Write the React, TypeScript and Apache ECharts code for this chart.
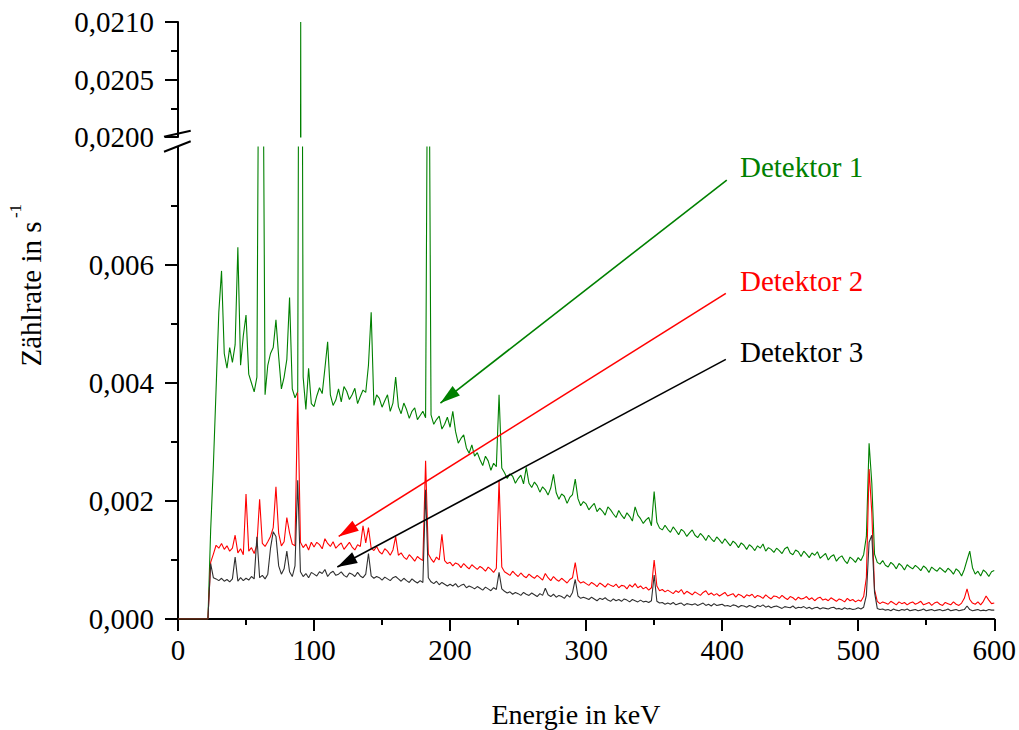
import React, { useEffect, useRef } from "react";
import * as echarts from "echarts";

// Energy grid: channel i is at i * ENERGY_STEP keV (0 ... 600 keV)
const ENERGY_STEP = 2;

// Count rates, in units of 1e-6 s^-1
const detector1 = [
  0, 0, 0, 0, 0, 0, 0, 0, 0, 0,
  0, 0, 1500, 2600, 3900, 5200, 5900, 4500, 4250, 4600,
  4350, 4650, 6300, 4300, 4800, 5150, 4150, 4000, 3850, 4100,
  13000, 12000, 3800, 4300, 4500, 4600, 5070, 4450, 3900, 4100,
  4400, 5450, 3900, 3750, 3850, 21000, 4100, 3550, 4250, 3650,
  3600, 3780, 3920, 3820, 4250, 4700, 3800, 3620, 3710, 3900,
  3680, 3940, 3860, 3720, 3800, 3910, 3650, 3770, 3880, 3840,
  4300, 5200, 3620, 3800, 3740, 3590, 3700, 3800, 3520, 3660,
  4100, 3600, 3480, 3660, 3550, 3400, 3520, 3580, 3380, 3450,
  3520, 3410, 12500, 3460, 3300, 3380, 3440, 3220, 3300, 3420,
  3250, 3520, 3180, 2980, 3060, 3120, 2900, 2810, 2950, 2760,
  2820, 2700, 2600, 2760, 2680, 2520, 2640, 2580, 3800, 2560,
  2480, 2380, 2460, 2420, 2300, 2380, 2440, 2290, 2570, 2300,
  2230, 2320, 2260, 2150, 2240, 2190, 2100, 2220, 2450, 2140,
  2030, 2120, 2080, 1960, 2060, 2110, 2370, 2040, 1920, 1990,
  1950, 1850, 1910, 1960, 1820, 1880, 1830, 1760, 1900, 1850,
  1780, 1720, 1840, 1760, 1700, 1800, 1740, 1660, 1900, 1760,
  1700, 1620, 1680, 1720, 1580, 2160, 1640, 1540, 1510, 1590,
  1520, 1470, 1560, 1500, 1430, 1520, 1480, 1400, 1460, 1510,
  1420, 1380, 1450, 1400, 1330, 1420, 1360, 1310, 1390, 1340,
  1280, 1360, 1300, 1240, 1320, 1280, 1210, 1290, 1250, 1180,
  1260, 1220, 1160, 1240, 1200, 1270, 1150, 1210, 1180, 1130,
  1200, 1160, 1110, 1190, 1220, 1120, 1090, 1170, 1140, 1060,
  1150, 1100, 1040, 1120, 1080, 1140, 1030, 1070, 1110, 1000,
  1060, 1090, 980, 1040, 1070, 990, 940, 1050, 1010, 960,
  1040, 990, 1090, 1400, 2980, 2300, 1100, 960, 930, 990,
  910, 880, 960, 920, 850, 940, 900, 830, 920, 880,
  850, 910, 870, 820, 900, 860, 790, 880, 840, 810,
  870, 830, 790, 860, 820, 760, 850, 810, 730, 840,
  1000, 1150, 870, 760, 810, 730, 830, 790, 720, 800,
  820,
];

const detector2 = [
  0, 0, 0, 0, 0, 0, 0, 0, 0, 0,
  0, 0, 960, 1100, 1250, 1200, 1280, 1180, 1240, 1150,
  1200, 1420, 1120, 1190, 1090, 2120, 1150, 1210, 1110, 1260,
  2030, 1280, 1230, 1310, 1400, 1550, 2240, 1450, 1240, 1310,
  1720, 1460, 1270, 1240, 3840, 1300, 1210, 1270, 1170, 1300,
  1220, 1300, 1260, 1190, 1360, 1280, 1230, 1310, 1200, 1250,
  1290, 1180, 1240, 1300, 1220, 1170, 1260, 1230, 1580, 1290,
  1550, 1200, 1160, 1230, 1140, 1100, 1190, 1150, 1080, 1170,
  1395, 1080, 1120, 1050, 1010, 1090, 1040, 980, 1060, 1020,
  990, 2680, 1100, 1020, 960, 1050, 1000, 1435, 990, 940,
  960, 900, 950, 930, 870, 940, 890, 850, 920, 880,
  840, 890, 860, 810, 880, 840, 790, 860, 2356, 880,
  800, 770, 740, 810, 760, 720, 780, 730, 700, 760,
  720, 690, 740, 700, 660, 770, 700, 650, 720, 670,
  640, 690, 650, 610, 670, 700, 955, 660, 610, 630,
  600, 570, 620, 590, 550, 610, 580, 540, 600, 570,
  550, 590, 530, 570, 560, 510, 580, 540, 600, 530,
  560, 510, 540, 490, 530, 1000, 560, 480, 500, 460,
  490, 460, 430, 480, 450, 500, 420, 470, 440, 410,
  460, 430, 400, 450, 480, 410, 440, 400, 430, 390,
  420, 450, 390, 410, 430, 370, 420, 400, 360, 410,
  390, 420, 360, 400, 380, 350, 410, 370, 340, 390,
  380, 350, 400, 360, 330, 380, 360, 320, 370, 340,
  350, 380, 330, 360, 310, 350, 370, 320, 340, 310,
  360, 330, 300, 340, 320, 290, 350, 310, 330, 290,
  320, 300, 380, 700, 2540, 1800, 500, 300, 260, 290,
  270, 250, 300, 270, 240, 290, 260, 280, 240, 270,
  290, 250, 270, 300, 240, 260, 280, 230, 270, 290,
  250, 230, 280, 260, 240, 290, 250, 230, 270, 350,
  510, 330, 270, 250, 290, 240, 300, 390, 320, 260,
  270,
];

const detector3 = [
  0, 0, 0, 0, 0, 0, 0, 0, 0, 0,
  0, 0, 940, 700, 680, 650, 690, 640, 670, 630,
  680, 1050, 640, 700, 650, 690, 660, 720, 680, 1395,
  700, 740, 680, 760, 1200, 1480, 1400, 900, 760, 850,
  1150, 800, 720, 900, 2350, 800, 720, 770, 700, 790,
  760, 730, 800, 770, 840, 720, 780, 810, 740, 760,
  800, 740, 710, 780, 760, 720, 790, 730, 700, 760,
  1110, 730, 690, 720, 700, 660, 710, 680, 650, 700,
  720, 680, 640, 690, 650, 620, 680, 640, 610, 650,
  620, 2190, 700, 630, 600, 640, 580, 620, 590, 560,
  590, 560, 600, 540, 570, 590, 530, 560, 540, 510,
  550, 520, 490, 540, 510, 480, 530, 500, 790, 510,
  470, 440, 460, 420, 450, 430, 400, 450, 420, 400,
  440, 410, 380, 430, 400, 520, 410, 380, 420, 370,
  400, 380, 350, 410, 370, 450, 670, 390, 350, 370,
  350, 330, 370, 340, 310, 350, 330, 360, 320, 300,
  340, 310, 330, 300, 340, 320, 290, 330, 310, 290,
  320, 290, 300, 280, 310, 745, 300, 270, 280, 250,
  270, 250, 280, 240, 260, 270, 230, 260, 250, 240,
  260, 230, 250, 270, 230, 250, 220, 260, 230, 240,
  250, 220, 230, 210, 240, 230, 200, 230, 220, 200,
  230, 210, 190, 230, 210, 240, 200, 220, 190, 210,
  220, 200, 180, 210, 200, 190, 220, 180, 200, 190,
  210, 180, 200, 170, 190, 200, 170, 190, 180, 170,
  190, 200, 170, 180, 160, 190, 170, 180, 160, 170,
  190, 170, 200, 400, 1300, 1420, 450, 180, 160, 170,
  150, 160, 140, 170, 150, 140, 160, 150, 170, 140,
  150, 160, 140, 150, 170, 140, 150, 160, 140, 150,
  160, 140, 150, 170, 140, 150, 160, 140, 150, 160,
  220, 160, 140, 150, 160, 140, 150, 140, 160, 150,
  150,
];

const seriesNames = ["Detektor 1", "Detektor 2", "Detektor 3"];
const seriesColors = ["#008000", "#ff0000", "#303030"];
const labelColors = ["#008000", "#ff0000", "#000000"];

// Axis settings
const xMin = 0;
const xMax = 600;
const xInterval = 100;
const lowerYMax = 0.008;
const lowerYInterval = 0.002;
const lowerYTicks = [0, 0.002, 0.004, 0.006];
const upperYMin = 0.02;
const upperYMax = 0.021;
const upperYInterval = 0.0005;

// Annotation arrows (data coordinates: keV, s^-1)
const arrowStarts = [
  [403.4, 0.00744],
  [402.7, 0.00552],
  [402.7, 0.0044],
];
const arrowEnds = [
  [192.9, 0.00366],
  [118.1, 0.0014],
  [117.1, 0.00088],
];

const FONT = '"Liberation Serif", "Times New Roman", serif';

function toPairs(values: number[]) {
  return values.map((v, i) => [i * ENERGY_STEP, v * 1e-6]);
}

export default function App() {
  const ref = useRef<HTMLDivElement>(null);

  useEffect(() => {
    if (!ref.current) return;
    const chart = echarts.init(ref.current, undefined, { renderer: "svg" });
    const allData = [detector1, detector2, detector3].map(toPairs);

    const yAxisCommon = {
      type: "value",
      axisLine: { show: true, lineStyle: { color: "#000", width: 2 } },
      axisTick: { show: true, inside: false, length: 13, lineStyle: { color: "#000", width: 2 } },
      minorTick: { show: true, splitNumber: 2, length: 7, lineStyle: { color: "#000", width: 2 } },
      splitLine: { show: false },
      minorSplitLine: { show: false },
      axisLabel: { fontFamily: FONT, fontSize: 29, color: "#000", margin: 24 },
    };

    const lowerSeries = allData.map((data, k) => ({
      name: seriesNames[k],
      type: "line",
      xAxisIndex: 1,
      yAxisIndex: 1,
      data,
      symbol: "none",
      showSymbol: false,
      clip: true,
      z: 2 + k,
      lineStyle: { color: seriesColors[k], width: 1.1 },
      markLine: {
        silent: true,
        animation: false,
        label: { show: false },
        lineStyle: { type: "solid", width: 1.6, color: labelColors[k] },
        emphasis: { disabled: true },
        data: [
          [
            { coord: arrowStarts[k], symbol: "none" },
            {
              coord: arrowEnds[k],
              symbol: "triangle",
              symbolSize: [12, 20],
              symbolOffset: [0, 10],
              itemStyle: { color: labelColors[k] },
            },
          ],
        ],
      },
    }));

    const upperSeries = allData.map((data, k) => ({
      name: seriesNames[k] + " (oben)",
      type: "line",
      xAxisIndex: 0,
      yAxisIndex: 0,
      data,
      symbol: "none",
      showSymbol: false,
      clip: true,
      z: 2 + k,
      lineStyle: { color: seriesColors[k], width: 1.1 },
    }));

    chart.setOption({
      animation: false,
      backgroundColor: "#fff",
      textStyle: { fontFamily: FONT },
      grid: [
        { left: 178, width: 818, top: 22, height: 115, containLabel: false },
        { left: 178, width: 818, top: 147, height: 472, containLabel: false },
      ],
      xAxis: [
        { type: "value", gridIndex: 0, min: xMin, max: xMax, show: false },
        {
          type: "value",
          gridIndex: 1,
          min: xMin,
          max: xMax,
          interval: xInterval,
          axisLine: { show: true, onZero: false, lineStyle: { color: "#000", width: 2 } },
          axisTick: { show: true, inside: false, length: 12, lineStyle: { color: "#000", width: 2 } },
          minorTick: { show: true, splitNumber: 2, length: 6, lineStyle: { color: "#000", width: 2 } },
          splitLine: { show: false },
          minorSplitLine: { show: false },
          axisLabel: { fontFamily: FONT, fontSize: 29, color: "#000", margin: 16 },
        },
      ],
      yAxis: [
        {
          ...yAxisCommon,
          gridIndex: 0,
          min: upperYMin,
          max: upperYMax,
          interval: upperYInterval,
          axisLabel: {
            ...yAxisCommon.axisLabel,
            formatter: (v: number) => v.toFixed(4).replace(".", ","),
          },
        },
        {
          ...yAxisCommon,
          gridIndex: 1,
          min: 0,
          max: lowerYMax,
          interval: lowerYInterval,
          axisTick: { ...yAxisCommon.axisTick, customValues: lowerYTicks },
          axisLabel: {
            ...yAxisCommon.axisLabel,
            customValues: lowerYTicks,
            formatter: (v: number) => v.toFixed(3).replace(".", ","),
          },
        },
      ],
      series: [...upperSeries, ...lowerSeries],
      graphic: [
        {
          type: "line",
          shape: { x1: 164, y1: 136.7, x2: 190.7, y2: 130.7 },
          style: { stroke: "#000", lineWidth: 2 },
          z: 100,
        },
        {
          type: "line",
          shape: { x1: 164, y1: 151.7, x2: 190.7, y2: 141.3 },
          style: { stroke: "#000", lineWidth: 2 },
          z: 100,
        },
        {
          type: "text",
          x: 576,
          y: 714,
          style: {
            text: "Energie in keV",
            fontFamily: FONT,
            fontSize: 28,
            fill: "#000",
            align: "center",
            verticalAlign: "middle",
          },
        },
        {
          type: "text",
          x: 31,
          y: 294,
          rotation: Math.PI / 2,
          style: {
            text: "Zählrate in s",
            fontFamily: FONT,
            fontSize: 29,
            fill: "#000",
            align: "center",
            verticalAlign: "middle",
          },
        },
        {
          type: "text",
          x: 15,
          y: 211,
          rotation: Math.PI / 2,
          style: {
            text: "-1",
            fontFamily: FONT,
            fontSize: 17,
            fill: "#000",
            align: "center",
            verticalAlign: "middle",
          },
        },
        ...seriesNames.map((name, k) => ({
          type: "text",
          x: 740,
          y: [167, 281, 352][k],
          style: {
            text: name,
            fontFamily: FONT,
            fontSize: 29,
            fill: labelColors[k],
            align: "left",
            verticalAlign: "middle",
          },
        })),
      ],
    });

    return () => chart.dispose();
  }, []);

  return (
    <div
      ref={ref}
      style={{ position: "absolute", left: 0, top: 0, width: 1019, height: 730, background: "#fff" }}
    />
  );
}
